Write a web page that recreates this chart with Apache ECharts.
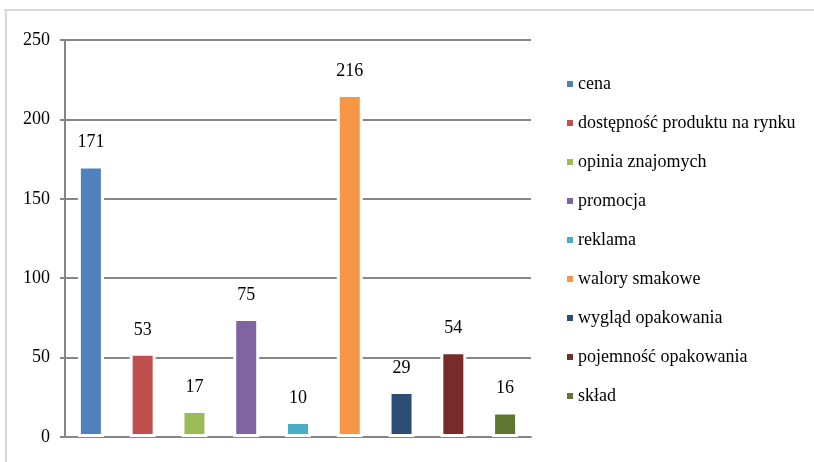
<!DOCTYPE html>
<html>
<head>
<meta charset="utf-8">
<script src="https://cdn.jsdelivr.net/npm/echarts@6/dist/echarts.min.js"></script>
<style>html,body{margin:0;padding:0;background:#fff}#c{width:814px;height:462px}</style>
</head>
<body>
<div id="c"></div>
<script>
const categories = ['cena','dostępność produktu na rynku','opinia znajomych','promocja','reklama','walory smakowe','wygląd opakowania','pojemność opakowania','skład'];
const values = [171,53,17,75,10,216,29,54,16];
const colors = ['#4F81BD','#C0504D','#9BBB59','#8064A2','#4BACC6','#F79646','#2C4D75','#772C2A','#5F7530'];
const yTicks = {min:0,max:250,interval:50};

const font = '"Liberation Serif","Times New Roman",serif';
const series = categories.map((name,i)=>({
  name,
  type:'bar',
  stack:'all',
  barWidth:26,
  data: values.map((v,j)=> j===i ? v : '-'),
  itemStyle:{color:colors[i], borderColor:'#ffffff', borderWidth:3},
  label:{show:true, position:'top', distance:14, color:'#000', fontFamily:font, fontSize:18},
  emphasis:{disabled:true}
}));

const chart = echarts.init(document.getElementById('c'), null, {renderer:'canvas'});
chart.setOption({
  animation:false,
  backgroundColor:'#fff',
  grid:{left:65, right:283, top:40, bottom:25, containLabel:false},
  xAxis:{type:'category', data:categories,
    axisLine:{show:true, lineStyle:{color:'#868686', width:2}},
    axisTick:{show:false}, axisLabel:{show:false}},
  yAxis:{type:'value', min:yTicks.min, max:yTicks.max, interval:yTicks.interval,
    axisLine:{show:true, lineStyle:{color:'#868686', width:2}},
    axisTick:{show:true, length:5, lineStyle:{color:'#868686', width:2}},
    axisLabel:{color:'#000', fontFamily:font, fontSize:18, margin:15},
    splitLine:{show:true, lineStyle:{color:'#868686', width:2}}},
  legend:{orient:'vertical', left:562, top:70, itemWidth:6, itemHeight:6, icon:'rect', itemGap:21,
    padding:5,
    itemStyle:{borderWidth:0},
    data:categories,
    textStyle:{color:'#000', fontFamily:font, fontSize:18, lineHeight:18}},
  graphic:[
    {type:'line', shape:{x1:4,y1:10,x2:814,y2:10}, style:{stroke:'#d9d9d9', lineWidth:2}},
    {type:'line', shape:{x1:6,y1:10,x2:6,y2:462}, style:{stroke:'#d9d9d9', lineWidth:2}}
  ],
  series
});
</script>
</body>
</html>
